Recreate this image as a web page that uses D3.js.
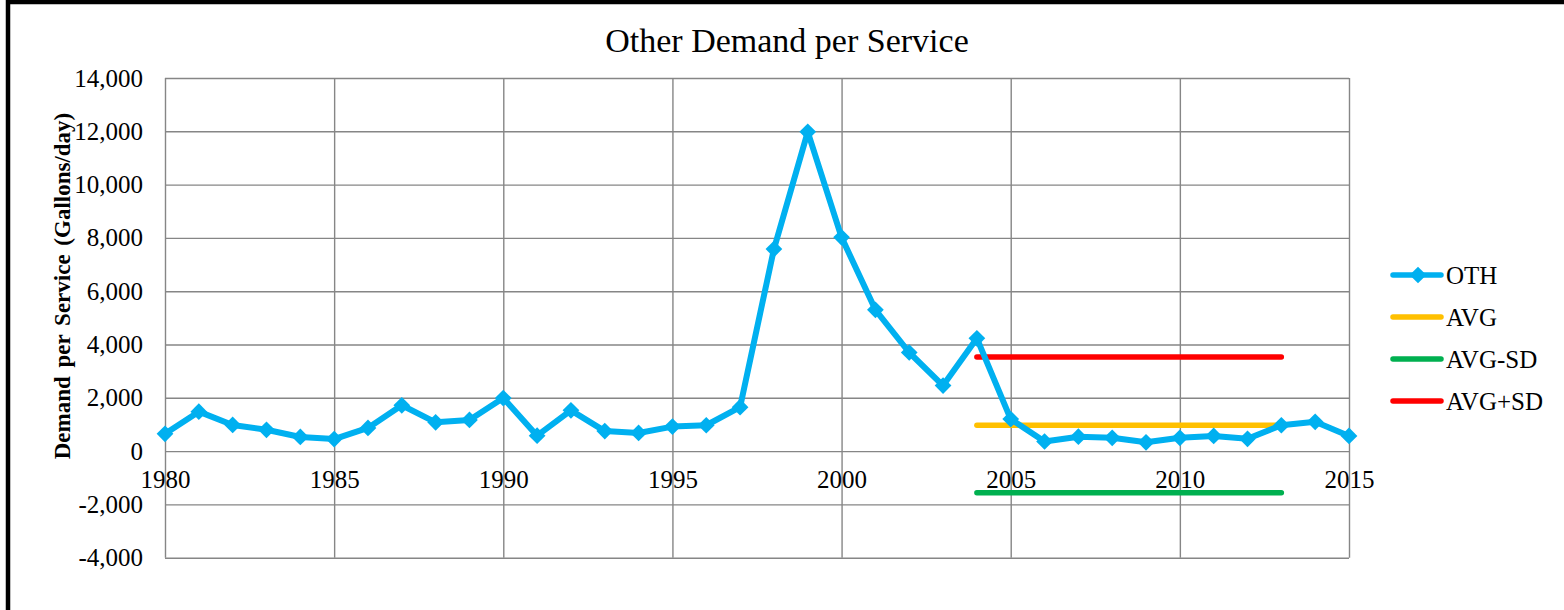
<!DOCTYPE html>
<html>
<head>
<meta charset="utf-8">
<script src="https://cdn.jsdelivr.net/npm/d3@7"></script>
<style>
  html, body { margin: 0; padding: 0; background: #fff; }
  svg { display: block; }
</style>
</head>
<body>
<div id="chart"></div>
<script>
// data
const years = d3.range(1980, 2016);
const othValues = [
  650, 1480, 980, 800, 530, 450, 870, 1720, 1080, 1170,
  1990, 580, 1530, 750, 680, 920, 970, 1650, 7580, 11980,
  8020, 5300, 3700, 2460, 4230, 1200, 360, 540, 500, 330,
  500, 570, 460, 970, 1100, 570
];
const statYears = [2004, 2013];
const avgValue = 970;
const avgMinusSd = -1560;
const avgPlusSd = 3530;
const xTickLabels = [1980, 1985, 1990, 1995, 2000, 2005, 2010, 2015];
const yTickLabels = [-4000, -2000, 0, 2000, 4000, 6000, 8000, 10000, 12000, 14000];

const width = 1564;
const height = 610;
const font = '"Liberation Serif", "Times New Roman", serif';
const plot = {left: 165, right: 1349, top: 78, bottom: 557.7};
const gridColor = '#868686';

const series = [
  {name: 'OTH', color: '#00B0F0', marker: true},
  {name: 'AVG', color: '#FFC000', value: avgValue},
  {name: 'AVG-SD', color: '#00B050', value: avgMinusSd},
  {name: 'AVG+SD', color: '#FF0000', value: avgPlusSd}
];

const fmtY = (d) => d3.format(',')(d).replace('\u2212', '-');

const svg = d3.select('#chart')
    .append('svg')
    .attr('width', width)
    .attr('height', height)
    .attr('font-family', font);

svg.append('rect')
    .attr('x', 8).attr('y', 2)
    .attr('width', width + 20).attr('height', height + 20)
    .attr('fill', '#fff')
    .attr('stroke', '#000')
    .attr('stroke-width', 4.5);

const x = d3.scaleLinear().domain([1980, 2015]).range([plot.left, plot.right]);
const y = d3.scaleLinear().domain([-4000, 14000]).range([plot.bottom, plot.top]);

// grid
svg.append('g')
    .attr('transform', `translate(${plot.left},0)`)
    .call(d3.axisLeft(y).tickValues(yTickLabels)
        .tickSize(-(plot.right - plot.left)).tickFormat(''))
    .call((g) => g.select('.domain').remove())
    .call((g) => g.selectAll('line')
        .attr('stroke', gridColor).attr('stroke-width', 1.4));

svg.append('g')
    .attr('transform', `translate(0,${plot.bottom})`)
    .call(d3.axisBottom(x).tickValues(xTickLabels)
        .tickSize(-(plot.bottom - plot.top)).tickFormat(''))
    .call((g) => g.select('.domain').remove())
    .call((g) => g.selectAll('line')
        .attr('stroke', gridColor).attr('stroke-width', 1.4));

// y tick labels
svg.append('g')
    .attr('transform', `translate(${plot.left},0)`)
    .call(d3.axisLeft(y).tickValues(yTickLabels).tickSize(0).tickPadding(22)
        .tickFormat(fmtY))
    .call((g) => g.select('.domain').remove())
    .call((g) => g.selectAll('text')
        .attr('font-family', font).attr('font-size', 25).attr('fill', '#000'));

// x tick labels sit on the zero line
svg.append('g')
    .attr('transform', `translate(0,${y(0)})`)
    .call(d3.axisBottom(x).tickValues(xTickLabels).tickSize(0).tickPadding(19)
        .tickFormat(d3.format('d')))
    .call((g) => g.select('.domain').remove())
    .call((g) => g.selectAll('text')
        .attr('font-family', font).attr('font-size', 25).attr('fill', '#000'));

// stat lines
series.slice(1).forEach((s) => {
  svg.append('line')
      .attr('x1', x(statYears[0])).attr('x2', x(statYears[1]))
      .attr('y1', y(s.value)).attr('y2', y(s.value))
      .attr('stroke', s.color)
      .attr('stroke-width', 5.5)
      .attr('stroke-linecap', 'round');
});

// OTH line
const line = d3.line()
    .x((d, i) => x(years[i]))
    .y((d) => y(d));

svg.append('path')
    .datum(othValues)
    .attr('fill', 'none')
    .attr('stroke', series[0].color)
    .attr('stroke-width', 6)
    .attr('stroke-linejoin', 'round')
    .attr('d', line);

const diamond = d3.symbol().type(d3.symbolSquare).size(140);

svg.append('g')
    .selectAll('path')
    .data(othValues)
    .join('path')
    .attr('d', diamond)
    .attr('fill', series[0].color)
    .attr('transform', (d, i) => `translate(${x(years[i])},${y(d)}) rotate(45)`);

// title
svg.append('text')
    .attr('x', 787)
    .attr('y', 52)
    .attr('text-anchor', 'middle')
    .attr('font-size', 34)
    .text('Other Demand per Service');

// y axis title
svg.append('text')
    .attr('transform', 'translate(62,286) rotate(-90)')
    .attr('text-anchor', 'middle')
    .attr('dy', '0.35em')
    .attr('font-size', 23)
    .attr('font-weight', 'bold')
    .attr('word-spacing', 3)
    .text('Demand per Service (Gallons/day)');

// legend
const legend = svg.append('g');
series.forEach((s, i) => {
  const ly = 275 + i * 42;
  legend.append('line')
      .attr('x1', 1393).attr('x2', 1441)
      .attr('y1', ly).attr('y2', ly)
      .attr('stroke', s.color)
      .attr('stroke-width', 5.5)
      .attr('stroke-linecap', 'round');
  if (s.marker) {
    legend.append('path')
        .attr('d', diamond)
        .attr('fill', s.color)
        .attr('transform', `translate(1418,${ly}) rotate(45)`);
  }
  legend.append('text')
      .attr('x', 1446)
      .attr('y', ly)
      .attr('dy', '0.35em')
      .attr('font-size', 25)
      .text(s.name);
});
</script>
</body>
</html>
